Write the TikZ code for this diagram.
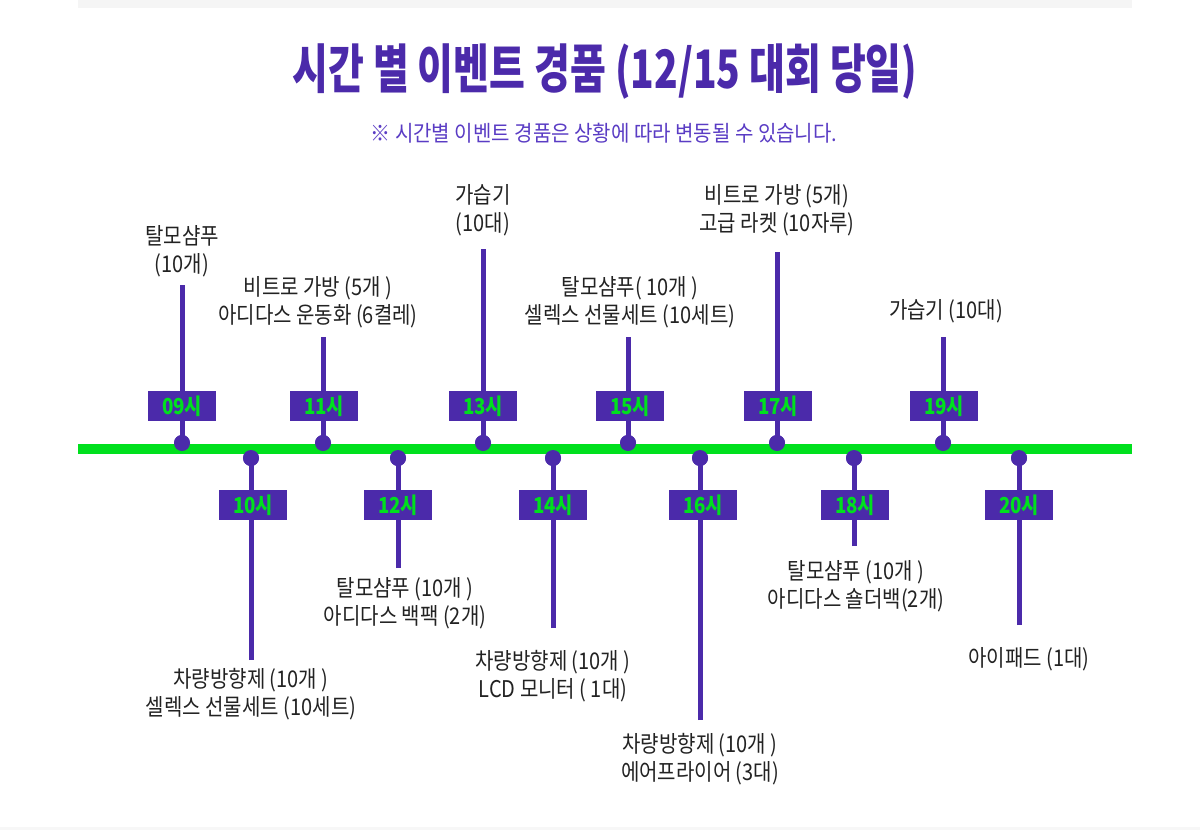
\documentclass[tikz,border=0pt]{standalone}
\usepackage{fontspec}
\usepackage{tikz}
\newfontfamily\titlefont[FakeStretch=0.735]{Noto Sans CJK KR}
\newfontfamily\labelfont[FakeStretch=0.87]{Noto Sans CJK KR}
\newfontfamily\notefont[FakeStretch=0.91]{Noto Sans CJK KR}
\newfontfamily\hourfont[FakeStretch=0.85]{Noto Sans CJK KR}
\definecolor{eventpurple}{HTML}{4B2AAA}
\definecolor{notepurple}{HTML}{5A3CC4}
\definecolor{linegreen}{HTML}{00E01E}
\definecolor{labelgray}{HTML}{222222}
\tikzset{
  hourbox/.style={fill=eventpurple, minimum width=68pt, minimum height=30pt, inner sep=0pt,
    text=linegreen, font=\hourfont\bfseries\fontsize{22}{22}\selectfont},
  gift/.style={align=center, text=labelgray, inner sep=0pt,
    font=\labelfont\fontsize{23}{28}\selectfont},
  dot/.style={circle, fill=eventpurple, minimum size=16pt, inner sep=0pt},
  stem/.style={draw=eventpurple, line width=5pt}
}

\begin{document}
\begin{tikzpicture}[x=1pt, y=-1pt]
			%%%%% START %%%%%
			\useasboundingbox (0, 0) rectangle (1200, 830);
			\fill[black!4] (78, 0) rectangle (1132, 8);
			\fill[black!3] (0, 827) rectangle (1200, 830);
			
			\node[text=eventpurple, font=\titlefont\bfseries\fontsize{53}{53}\selectfont] (title) at (605, 72) {시간 별 이벤트 경품 (12/15 대회 당일)};
			\node[text=notepurple, font=\notefont\fontsize{22}{22}\selectfont] (note) at (604, 133) {※ 시간별 이벤트 경품은 상황에 따라 변동될 수 있습니다.};
			
			% upper stems
			\coordinate (s09) at (182, 285);
			\coordinate (s11) at (323, 337);
			\coordinate (s13) at (483, 249);
			\coordinate (s15) at (628, 337);
			\coordinate (s17) at (777, 252);
			\coordinate (s19) at (943, 337);
			% lower stems
			\coordinate (s10) at (251, 660);
			\coordinate (s12) at (398, 568);
			\coordinate (s14) at (553, 628);
			\coordinate (s16) at (700, 720);
			\coordinate (s18) at (854, 546);
			\coordinate (s20) at (1019, 625);
			
			\coordinate (tl) at (78, 449);
			\coordinate (tr) at (1132, 449);
			
			\node[dot] (d09) at (182, 443) {};
			\node[dot] (d11) at (323, 443) {};
			\node[dot] (d13) at (483, 443) {};
			\node[dot] (d15) at (628, 443) {};
			\node[dot] (d17) at (777, 443) {};
			\node[dot] (d19) at (943, 443) {};
			\node[dot] (d10) at (251, 458) {};
			\node[dot] (d12) at (398, 458) {};
			\node[dot] (d14) at (553, 458) {};
			\node[dot] (d16) at (700, 458) {};
			\node[dot] (d18) at (854, 458) {};
			\node[dot] (d20) at (1019, 458) {};
			
			\draw[stem] (s09) -- (d09.center);
			\draw[stem] (s11) -- (d11.center);
			\draw[stem] (s13) -- (d13.center);
			\draw[stem] (s15) -- (d15.center);
			\draw[stem] (s17) -- (d17.center);
			\draw[stem] (s19) -- (d19.center);
			\draw[stem] (s10) -- (d10.center);
			\draw[stem] (s12) -- (d12.center);
			\draw[stem] (s14) -- (d14.center);
			\draw[stem] (s16) -- (d16.center);
			\draw[stem] (s18) -- (d18.center);
			\draw[stem] (s20) -- (d20.center);
			
			\draw[draw=linegreen, line width=10pt] (tl) -- (tr);
			
			\node[dot] at (d09) {};
			\node[dot] at (d11) {};
			\node[dot] at (d13) {};
			\node[dot] at (d15) {};
			\node[dot] at (d17) {};
			\node[dot] at (d19) {};
			\node[dot] at (d10) {};
			\node[dot] at (d12) {};
			\node[dot] at (d14) {};
			\node[dot] at (d16) {};
			\node[dot] at (d18) {};
			\node[dot] at (d20) {};
			
			\node[hourbox] (h09) at (182, 406) {09시};
			\node[hourbox] (h11) at (324, 406) {11시};
			\node[hourbox] (h13) at (483, 406) {13시};
			\node[hourbox] (h15) at (630, 406) {15시};
			\node[hourbox] (h17) at (778, 406) {17시};
			\node[hourbox] (h19) at (944, 406) {19시};
			\node[hourbox] (h10) at (253, 505) {10시};
			\node[hourbox] (h12) at (398, 505) {12시};
			\node[hourbox] (h14) at (553, 505) {14시};
			\node[hourbox] (h16) at (703, 505) {16시};
			\node[hourbox] (h18) at (855, 505) {18시};
			\node[hourbox] (h20) at (1019, 505) {20시};
			
			\node[gift] (g09) at (182, 251) {탈모샴푸\\(10개)};
			\node[gift] (g11) at (318, 302.5) {비트로 가방 (5개 )\\아디다스 운동화 (6켤레)};
			\node[gift] (g13) at (483, 210.5) {가습기\\(10대)};
			\node[gift] (g15) at (630, 302.5) {탈모샴푸( 10개 )\\셀렉스 선물세트 (10세트)};
			\node[gift] (g17) at (777, 210.5) {비트로 가방 (5개)\\고급 라켓 (10자루)};
			\node[gift] (g19) at (946, 311) {가습기 (10대)};
			\node[gift] (g10) at (251, 694) {차량방향제 (10개 )\\셀렉스 선물세트 (10세트)};
			\node[gift] (g12) at (405, 603.5) {탈모샴푸 (10개 )\\아디다스 백팩 (2개)};
			\node[gift] (g14) at (553, 676) {차량방향제 (10개 )\\LCD 모니터 ( 1대)};
			\node[gift] (g16) at (700, 759) {차량방향제 (10개 )\\에어프라이어 (3대)};
			\node[gift] (g18) at (856, 586.5) {탈모샴푸 (10개 )\\아디다스 숄더백(2개)};
			\node[gift] (g20) at (1029, 659) {아이패드 (1대)};
			%%%%% END %%%%%
\end{tikzpicture}
\end{document}
